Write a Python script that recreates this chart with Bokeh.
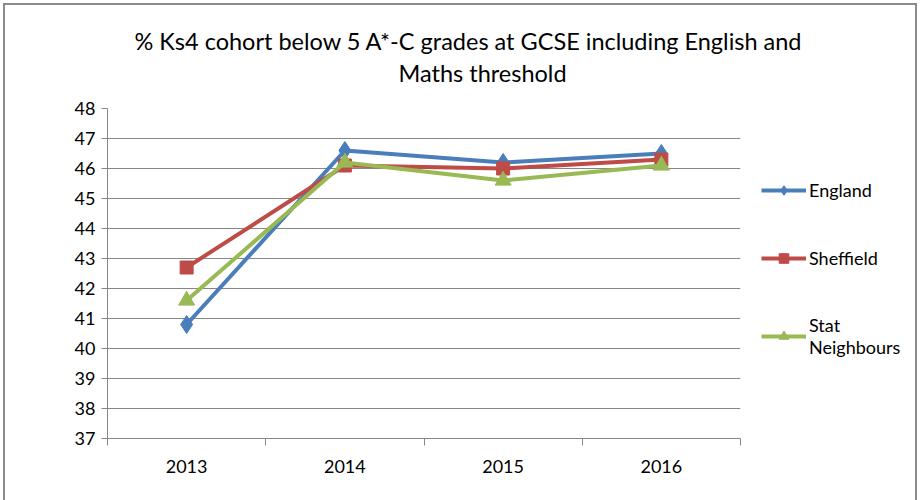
from bokeh.plotting import figure
from bokeh.models import Range1d, FixedTicker, Legend, LegendItem, Title
from bokeh.embed import file_html
from bokeh.resources import INLINE

title_lines = ["% Ks4 cohort below 5 A*-C grades at GCSE including English and", "Maths threshold"]
years = ["2013", "2014", "2015", "2016"]
england = [40.8, 46.6, 46.2, 46.5]
sheffield = [42.7, 46.1, 46.0, 46.3]
stat_neighbours = [41.6, 46.2, 45.6, 46.1]
y_ticks = list(range(37, 49))

xs = [i + 0.5 for i in range(len(years))]
FONT = "Lato"
GRID = "#868686"
BORDER = "#8c8c8c"

p = figure(frame_width=633, frame_height=330, output_backend="svg", toolbar_location=None,
           x_range=Range1d(0, len(years)), y_range=Range1d(37, 48),
           min_border_left=107, min_border_right=180, min_border_top=108, min_border_bottom=62)
p.border_fill_color = None
p.background_fill_color = "white"
p.outline_line_color = None
g = f"linear-gradient({BORDER},{BORDER})"
p.styles = {"background": f"{g} 3px 3px/2px 497px no-repeat, {g} 3px 3px/914px 2px no-repeat, "
                          f"{g} 915px 3px/2px 497px no-repeat, #ffffff"}

p.add_layout(Title(text=title_lines[1], align="left", offset=291, text_font=FONT,
                   text_font_size="23.5px", text_font_style="normal", text_color="#000000",
                   standoff=43), "above")
p.add_layout(Title(text=title_lines[0], align="left", offset=27, text_font=FONT,
                   text_font_size="23.5px", text_font_style="normal", text_color="#000000",
                   standoff=-39), "above")

p.xgrid.grid_line_color = None
p.ygrid.grid_line_color = GRID
p.ygrid.ticker = FixedTicker(ticks=y_ticks)

p.yaxis.ticker = FixedTicker(ticks=y_ticks)
p.yaxis.axis_line_color = GRID
p.yaxis.major_tick_line_color = GRID
p.yaxis.major_tick_in = 0
p.yaxis.major_tick_out = 6
p.yaxis.minor_tick_line_color = None
p.yaxis.major_label_text_font = FONT
p.yaxis.major_label_text_font_size = "18px"
p.yaxis.major_label_text_color = "#000000"
p.yaxis.major_label_standoff = 6

p.xaxis.ticker = FixedTicker(ticks=xs, minor_ticks=list(range(len(years) + 1)))
p.xaxis.major_label_overrides = {x: y for x, y in zip(xs, years)}
p.xaxis.axis_line_color = GRID
p.xaxis.major_tick_line_color = None
p.xaxis.minor_tick_line_color = GRID
p.xaxis.minor_tick_in = 0
p.xaxis.minor_tick_out = 7
p.xaxis.major_label_text_font = FONT
p.xaxis.major_label_text_font_size = "18px"
p.xaxis.major_label_text_color = "#000000"
p.xaxis.major_label_standoff = 14

series = [
    ("England", england, "#4A7EBB", "diamond", 18),
    ("Sheffield", sheffield, "#BE4B48", "square", 13),
    ("Stat\nNeighbours", stat_neighbours, "#98B954", "triangle", 16),
]
items = []
for name, vals, col, mk, sz in series:
    l = p.line(xs, vals, line_color=col, line_width=4)
    m = p.scatter(xs, vals, marker=mk, size=sz, fill_color=col, line_color=col)
    items.append(LegendItem(label=name, renderers=[l, m]))

legend = Legend(items=items, location=(21, 80), border_line_color=None,
                background_fill_alpha=0,
                label_text_font=FONT, label_text_font_size="18px", label_text_color="#000000",
                glyph_width=45, glyph_height=24, label_height=24, spacing=44,
                padding=0, margin=0, label_standoff=3)
p.add_layout(legend, "right")

open("out.html", "w").write(file_html(p, INLINE))
